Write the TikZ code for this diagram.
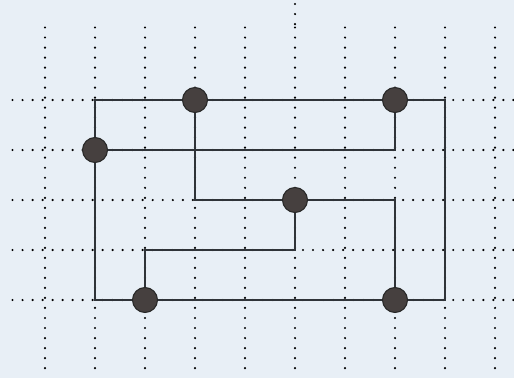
\documentclass[tikz,border=0pt]{standalone}
\usepackage{tikz}
\usetikzlibrary{positioning}

\definecolor{paper}{HTML}{E8EFF6}
\definecolor{wire}{HTML}{2F3338}
\definecolor{ballc}{HTML}{46403F}

\begin{document}
\begin{tikzpicture}[
          x=1cm, y=-1cm,
          grid/.style={black, line width=1.4pt, line cap=round,
                       dash pattern=on 0pt off 5.7pt},
          wire/.style={draw=wire, line width=1.1pt},
          ball/.style={circle, fill=ballc, draw=black!85, line width=0.6pt,
                       minimum size=0.5cm, inner sep=0pt}
        ]
        \fill[paper] (0,0) rectangle (10.28,7.56);
        \useasboundingbox (0,0) rectangle (10.28,7.56);

        % dotted grid
        \foreach \i in {0,...,9}
          \draw[grid] (0.9+\i,0.55) -- (0.9+\i,7.56);
        \draw[grid] (5.9,0.08) -- (5.9,0.55);
        \foreach \j in {2,...,6}
          \draw[grid] (0.25,\j) -- (10.28,\j);

        % frame corners
        \coordinate (tl) at (1.9,2);
        \coordinate (tr) at (8.9,2);
        \coordinate (br) at (8.9,6);
        \coordinate (bl) at (1.9,6);
        \coordinate (rc) at (7.9,3);
        \coordinate (ac) at (3.9,4);
        \coordinate (dc) at (7.9,4);
        \coordinate (ec) at (5.9,5);
        \coordinate (fc) at (2.9,5);

        % balls
        \node[ball] (topa) at (3.9,2) {};
        \node[ball] (topb) at (7.9,2) {};
        \node[ball] (left) at (1.9,3) {};
        \node[ball] (mid) at (5.9,4) {};
        \node[ball] (bota) at (2.9,6) {};
        \node[ball] (botb) at (7.9,6) {};

        \draw[wire] (left) -- (tl) -- (topa) -- (topb) -- (tr) -- (br) -- (botb) -- (bota) -- (bl) -- (left);
        \draw[wire] (left) -- (rc) -- (topb);
        \draw[wire] (topa) -- (ac) -- (mid) -- (dc) -- (botb);
        \draw[wire] (mid) -- (ec) -- (fc) -- (bota);
      \end{tikzpicture}
\end{document}
